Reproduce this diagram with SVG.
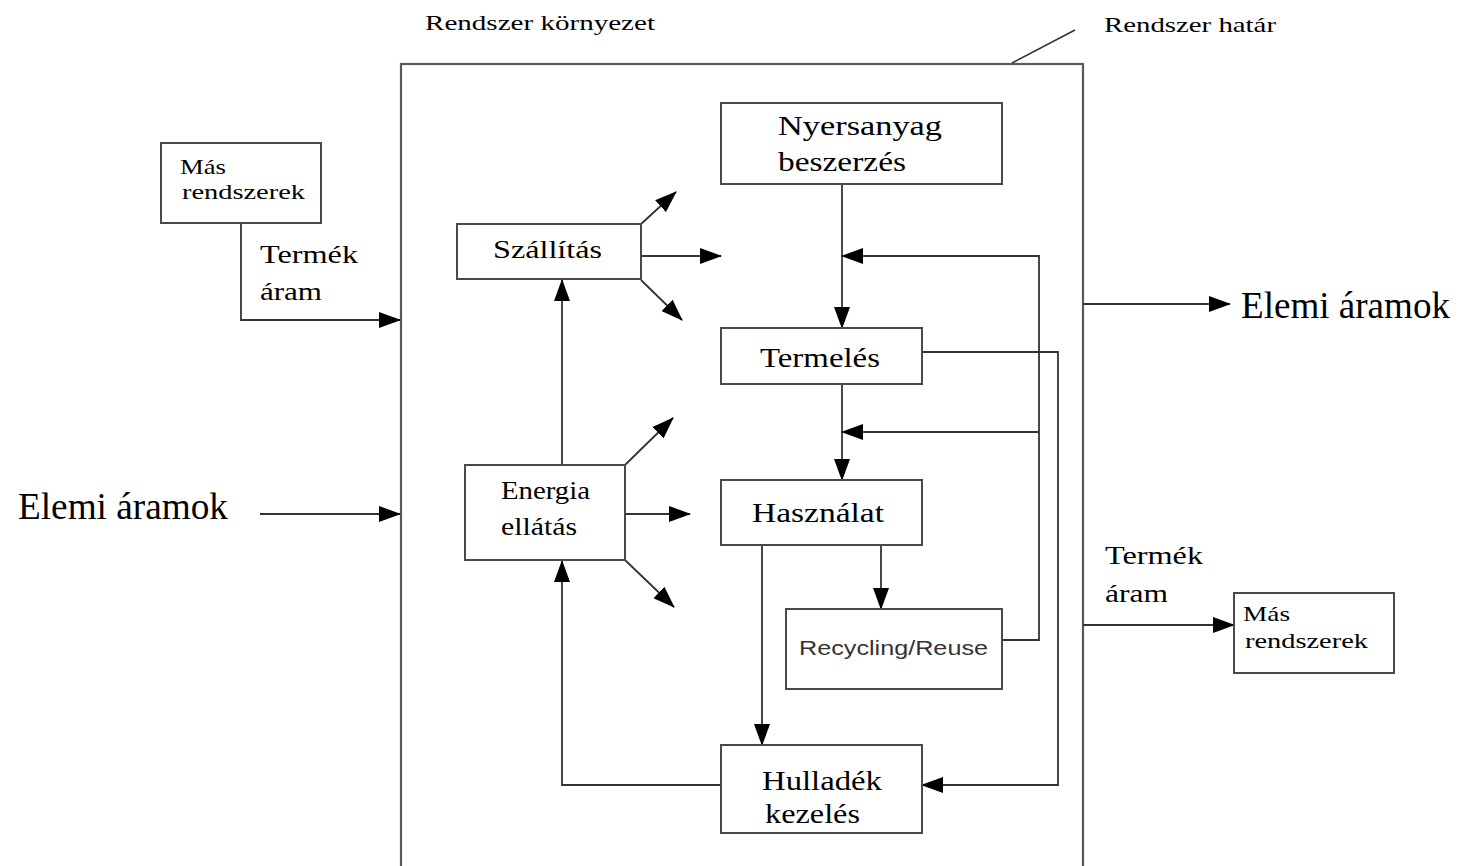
<svg xmlns="http://www.w3.org/2000/svg" width="1459" height="866" viewBox="0 0 1459 866">
  <defs>
    <marker id="arrow" markerUnits="userSpaceOnUse" markerWidth="22" markerHeight="16" refX="21" refY="8" orient="auto">
      <path d="M0,0 L22,8 L0,16 z" fill="#000"/>
    </marker>
    <style>
      .box { fill: #fff; stroke: #4a4a4a; stroke-width: 2; }
      .bound { fill: none; stroke: #5a5a5a; stroke-width: 2.2; }
      .flow { fill: none; stroke: #333; stroke-width: 1.8; }
      .arr { marker-end: url(#arrow); }
      .t { font-family: "Liberation Serif", "DejaVu Serif", serif; fill: #000; }
      .s { font-family: "Liberation Sans", Arial, sans-serif; fill: #333; }
    </style>
  </defs>
  <rect width="1459" height="866" fill="#fff"/>

  <!-- system boundary and its labels -->
  <g id="boundary">
    <rect class="bound" x="401" y="64" width="682" height="810"/>
    <line x1="1012" y1="63" x2="1075" y2="30" stroke="#333" stroke-width="1.6"/>
    <text class="t" x="425" y="30" font-size="21" textLength="230" lengthAdjust="spacingAndGlyphs">Rendszer környezet</text>
    <text class="t" x="1104" y="32" font-size="21" textLength="172" lengthAdjust="spacingAndGlyphs">Rendszer határ</text>
  </g>

  <!-- connectors -->
  <g id="connectors">
    <polyline class="flow arr" points="241,223 241,320 400,320"/>
    <line class="flow arr" x1="260" y1="514" x2="400" y2="514"/>
    <line class="flow arr" x1="1083" y1="304" x2="1230" y2="304"/>
    <line class="flow arr" x1="1083" y1="625" x2="1234" y2="625"/>

    <line class="flow arr" x1="641" y1="224" x2="676" y2="192"/>
    <line class="flow arr" x1="641" y1="256" x2="721" y2="256"/>
    <line class="flow arr" x1="641" y1="280" x2="682" y2="320"/>

    <line class="flow arr" x1="625" y1="465" x2="673" y2="418"/>
    <line class="flow arr" x1="625" y1="514" x2="690" y2="514"/>
    <line class="flow arr" x1="625" y1="560" x2="674" y2="607"/>

    <line class="flow arr" x1="562" y1="465" x2="562" y2="280"/>
    <polyline class="flow arr" points="721,785 562,785 562,561"/>

    <line class="flow arr" x1="842" y1="184" x2="842" y2="328"/>
    <line class="flow arr" x1="842" y1="384" x2="842" y2="480"/>
    <line class="flow arr" x1="881" y1="545" x2="881" y2="609"/>
    <line class="flow arr" x1="762" y1="545" x2="762" y2="745"/>

    <polyline class="flow arr" points="1002,640 1039,640 1039,256 842,256"/>
    <line class="flow arr" x1="1039" y1="432" x2="842" y2="432"/>
    <polyline class="flow arr" points="922,352 1058,352 1058,785 922,785"/>
  </g>

  <!-- free labels -->
  <g id="labels">
    <text class="t" x="260" y="263" font-size="26" textLength="98" lengthAdjust="spacingAndGlyphs">Termék</text>
    <text class="t" x="260" y="300" font-size="26" textLength="62" lengthAdjust="spacingAndGlyphs">áram</text>
    <text class="t" x="18" y="519" font-size="37" textLength="210" lengthAdjust="spacingAndGlyphs">Elemi áramok</text>
    <text class="t" x="1241" y="318" font-size="37" textLength="209" lengthAdjust="spacingAndGlyphs">Elemi áramok</text>
    <text class="t" x="1105" y="564" font-size="26" textLength="98" lengthAdjust="spacingAndGlyphs">Termék</text>
    <text class="t" x="1105" y="602" font-size="26" textLength="63" lengthAdjust="spacingAndGlyphs">áram</text>
  </g>

  <g id="mas-rendszerek-be">
    <rect class="box" x="161" y="143" width="160" height="80"/>
    <text class="t" x="180" y="174" font-size="22" textLength="46" lengthAdjust="spacingAndGlyphs">Más</text>
    <text class="t" x="182" y="199" font-size="22" textLength="123" lengthAdjust="spacingAndGlyphs">rendszerek</text>
  </g>

  <g id="szallitas">
    <rect class="box" x="457" y="224" width="184" height="55"/>
    <text class="t" x="493" y="258" font-size="26" textLength="109" lengthAdjust="spacingAndGlyphs">Szállítás</text>
  </g>

  <g id="energia">
    <rect class="box" x="465" y="465" width="160" height="95"/>
    <text class="t" x="501" y="499" font-size="26" textLength="89" lengthAdjust="spacingAndGlyphs">Energia</text>
    <text class="t" x="501" y="535" font-size="26" textLength="76" lengthAdjust="spacingAndGlyphs">ellátás</text>
  </g>

  <g id="nyersanyag">
    <rect class="box" x="721" y="103" width="281" height="81"/>
    <text class="t" x="778" y="135" font-size="27" textLength="164" lengthAdjust="spacingAndGlyphs">Nyersanyag</text>
    <text class="t" x="778" y="171" font-size="27" textLength="128" lengthAdjust="spacingAndGlyphs">beszerzés</text>
  </g>

  <g id="termeles">
    <rect class="box" x="721" y="328" width="201" height="56"/>
    <text class="t" x="760" y="367" font-size="27" textLength="120" lengthAdjust="spacingAndGlyphs">Termelés</text>
  </g>

  <g id="hasznalat">
    <rect class="box" x="721" y="480" width="201" height="65"/>
    <text class="t" x="752" y="522" font-size="27" textLength="132" lengthAdjust="spacingAndGlyphs">Használat</text>
  </g>

  <g id="recycling">
    <rect class="box" x="786" y="609" width="216" height="80"/>
    <text class="s" x="799" y="655" font-size="20" textLength="189" lengthAdjust="spacingAndGlyphs">Recycling/Reuse</text>
  </g>

  <g id="hulladek">
    <rect class="box" x="721" y="745" width="201" height="88"/>
    <text class="t" x="762" y="790" font-size="27" textLength="120" lengthAdjust="spacingAndGlyphs">Hulladék</text>
    <text class="t" x="765" y="823" font-size="27" textLength="95" lengthAdjust="spacingAndGlyphs">kezelés</text>
  </g>

  <g id="mas-rendszerek-ki">
    <rect class="box" x="1234" y="593" width="160" height="80"/>
    <text class="t" x="1243" y="621" font-size="22" textLength="47" lengthAdjust="spacingAndGlyphs">Más</text>
    <text class="t" x="1245" y="648" font-size="22" textLength="123" lengthAdjust="spacingAndGlyphs">rendszerek</text>
  </g>
</svg>
